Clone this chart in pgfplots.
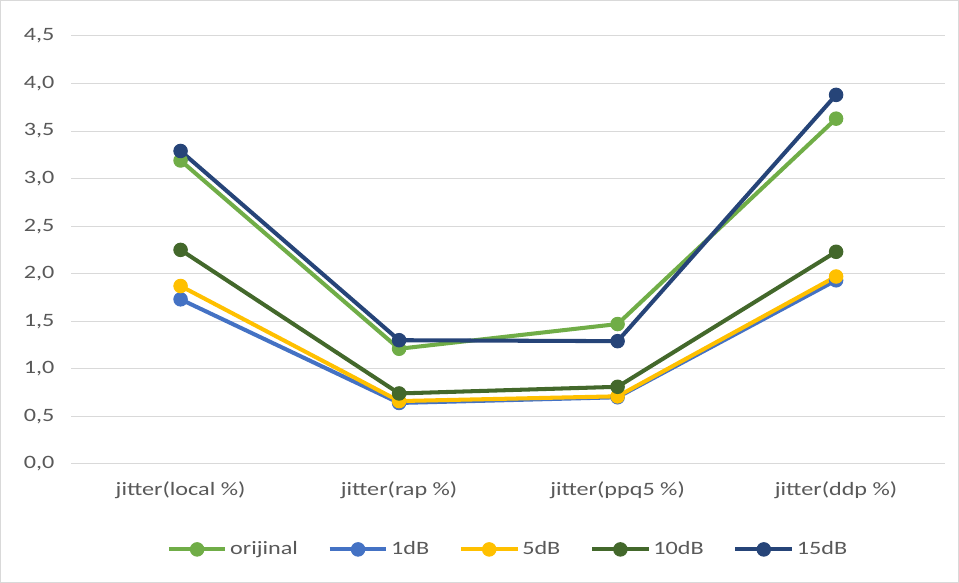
\documentclass[border=0pt]{standalone}
\usepackage{pgfplots}
\pgfplotsset{compat=1.18}
\usepackage{fontspec}
\setmainfont{Carlito}[FakeStretch=1.28]
\definecolor{cOri}{HTML}{70AD47}
\definecolor{c1}{HTML}{4472C4}
\definecolor{c5}{HTML}{FFC000}
\definecolor{c10}{HTML}{43682B}
\definecolor{c15}{HTML}{264478}
\definecolor{txt}{HTML}{595959}
\definecolor{gridc}{HTML}{D9D9D9}
\begin{document}
\begin{tikzpicture}
% outer chart frame (1px = 0.75pt)
\draw[gridc, line width=0.75pt] (5.25pt,2.25pt) rectangle (715.5pt,433.5pt);
\begin{axis}[
  at={(57.75pt,90pt)}, anchor=south west,
  scale only axis, width=648pt, height=317.25pt,
  xmin=-0.5, xmax=3.5, ymin=0, ymax=4.5,
  xtick={0,1,2,3},
  xticklabels={jitter(local \%),jitter(rap \%),jitter(ppq5 \%),jitter(ddp \%)},
  ytick={0,0.5,...,4.5},
  /pgf/number format/.cd, use comma, fixed, fixed zerofill, precision=1, assume math mode=true,
  /pgfplots/.cd,
  axis line style={draw=none},
  tick style={draw=none},
  xmajorgrids=false, ymajorgrids=true,
  grid style={gridc, line width=0.75pt},
  ticklabel style={font=\fontsize{14pt}{16pt}\selectfont, text=txt},
  yticklabel style={xshift=-9pt},
  xticklabel style={yshift=-10pt},
  every axis plot/.append style={line width=3pt, mark=*, mark size=5pt,
    mark options={line width=0.75pt}},
  legend columns=5,
  legend style={at={(0.5,-0.2)}, anchor=center, draw=none, fill=none,
    font=\fontsize{14pt}{16pt}\selectfont, text=txt,
    /tikz/every even column/.append style={column sep=20pt}},
  legend image code/.code={
    \draw[#1, mark repeat=2, mark phase=2] plot coordinates {(0pt,0pt) (21pt,0pt) (42pt,0pt)};},
]
\addplot[color=cOri] coordinates {(0,3.19) (1,1.21) (2,1.47) (3,3.63)};
\addlegendentry{orijinal}
\addplot[color=c1] coordinates {(0,1.73) (1,0.64) (2,0.70) (3,1.93)};
\addlegendentry{1dB}
\addplot[color=c5] coordinates {(0,1.87) (1,0.66) (2,0.71) (3,1.97)};
\addlegendentry{5dB}
\addplot[color=c10] coordinates {(0,2.25) (1,0.74) (2,0.81) (3,2.23)};
\addlegendentry{10dB}
\addplot[color=c15] coordinates {(0,3.29) (1,1.30) (2,1.29) (3,3.88)};
\addlegendentry{15dB}
\end{axis}
\end{tikzpicture}
\end{document}
